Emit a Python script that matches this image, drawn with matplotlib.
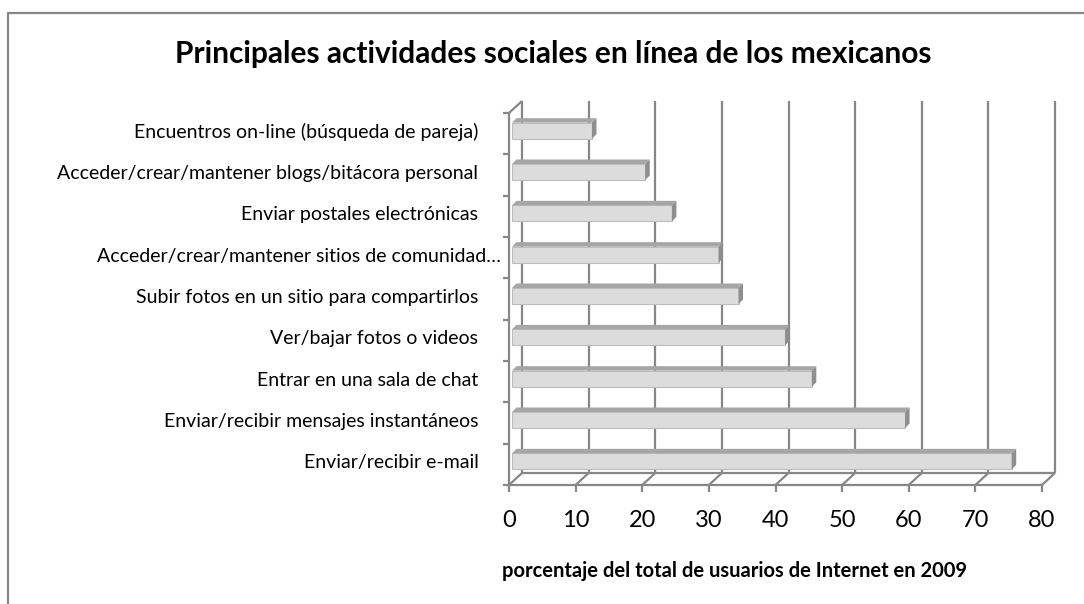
import matplotlib
matplotlib.use("Agg")
import matplotlib.pyplot as plt
from matplotlib.patches import Polygon
from matplotlib.lines import Line2D
from matplotlib.transforms import Affine2D

# ---- data -------------------------------------------------------------
categories = [
    "Encuentros on-line (búsqueda de pareja)",
    "Acceder/crear/mantener blogs/bitácora personal",
    "Enviar postales electrónicas",
    "Acceder/crear/mantener sitios de comunidad…",
    "Subir fotos en un sitio para compartirlos",
    "Ver/bajar fotos o videos",
    "Entrar en una sala de chat",
    "Enviar/recibir mensajes instantáneos",
    "Enviar/recibir e-mail",
]
values = [12, 20, 24, 31, 34, 41, 45, 59, 75]
xticks = [0, 10, 20, 30, 40, 50, 60, 70, 80]
title = "Principales actividades sociales en línea de los mexicanos"
xlabel = "porcentaje del total de usuarios de Internet en 2009"

# ---- style ------------------------------------------------------------
plt.rcParams["font.family"] = ["Lato", "DejaVu Sans"]
W, H = 1084, 604
GRID = "#878787"
FRONT = "#DCDCDC"
FRONT_EDGE = "#BDBDBD"
TOP = "#A6A6A6"
SIDE = "#8E8E8E"

fig = plt.figure(figsize=(W / 100, H / 100), dpi=100)
fig.patch.set_facecolor("white")

# front plane of the 3-D box (pixels)
x0_px, x1_px = 509, 1042
ytop_px, ybot_px = 113, 485
ax = fig.add_axes([x0_px / W, 1 - ybot_px / H, (x1_px - x0_px) / W, (ybot_px - ytop_px) / H])
n = len(categories)
xmin, xmax = xticks[0], xticks[-1]
ax.set_xlim(xmin, xmax)
ax.set_ylim(n - 0.5, -0.5)
ax.set_facecolor("none")

# pixel -> data conversion for the depth offsets
upx = (xmax - xmin) / (x1_px - x0_px)
vpx = n / (ybot_px - ytop_px)
DX, DY = 13 * upx, 12 * vpx          # back wall offset
BX0, BY0 = 3 * upx, 3 * vpx          # bar front face offset
BDX, BDY = 4.5 * upx, 4.5 * vpx      # bar depth
bar_h = 16 * vpx

ybot, ytop = n - 0.5, -0.5
kw = dict(color=GRID, lw=1.6, clip_on=False, solid_capstyle="butt")

# back wall gridlines
for v in xticks:
    ax.plot([v + DX, v + DX], [ybot - DY, ytop - DY], **kw, zorder=1)
    # floor diagonals
    ax.plot([v, v + DX], [ybot, ybot - DY], **kw, zorder=1)
# back floor line
ax.plot([xmin + DX, xmax + DX], [ybot - DY, ybot - DY], **kw, zorder=1)
# left wall top diagonal
ax.plot([xmin, xmin + DX], [ytop, ytop - DY], **kw, zorder=1)

# bars
ypos = [i - BY0 for i in range(n)]
ax.barh(ypos, values, left=BX0, height=bar_h, color=FRONT,
        edgecolor=FRONT_EDGE, linewidth=0.8, zorder=3)
for y, v in zip(ypos, values):
    top = y - bar_h / 2
    bot = y + bar_h / 2
    right = BX0 + v
    ax.add_patch(Polygon([(BX0, top), (right, top), (right + BDX, top - BDY),
                          (BX0 + BDX, top - BDY)], closed=True,
                         facecolor=TOP, edgecolor="none", zorder=3))
    ax.add_patch(Polygon([(right, top), (right, bot), (right + BDX, bot - BDY),
                          (right + BDX, top - BDY)], closed=True,
                         facecolor=SIDE, edgecolor="none", zorder=3))

# spines (front wall and front floor)
for s in ("top", "right"):
    ax.spines[s].set_visible(False)
for s in ("left", "bottom"):
    ax.spines[s].set_color(GRID)
    ax.spines[s].set_linewidth(1.6)

# x ticks
ax.set_xticks(xticks)
ax.set_xticklabels([str(t) for t in xticks], fontsize=17, color="black")
ax.tick_params(axis="x", direction="out", length=5, width=1.6, color=GRID, pad=13)

# y ticks: labels at bar centers, tick marks at category boundaries
ax.set_yticks(ypos)
ylabels = ax.set_yticklabels(categories, fontsize=14, color="black")
ax.tick_params(axis="y", which="major", length=0, pad=22)
ax.set_yticks([i - 0.5 for i in range(n + 1)], minor=True)
ax.tick_params(axis="y", which="minor", direction="out", length=4.5, width=1.6, color=GRID)
# the truncated label reaches closer to the wall, as in the original
for lab in ylabels:
    if lab.get_text().endswith("…"):
        lab.set_transform(lab.get_transform() + Affine2D().translate(22, 0))

# title and axis label
fig.text(553 / W, 1 - 63 / H, title, ha="center", va="baseline",
         fontsize=21.5, fontweight="bold")
fig.text(502 / W, 1 - 577 / H, xlabel, ha="left", va="baseline",
         fontsize=14.5, fontweight="bold")

# chart frame (only left and top edges visible)
fig.add_artist(Line2D([8 / W, 8 / W, 1.0], [0.0, 1 - 13 / H, 1 - 13 / H],
                      transform=fig.transFigure, color=GRID, lw=1.6))

fig.savefig("out.png", dpi=100)
